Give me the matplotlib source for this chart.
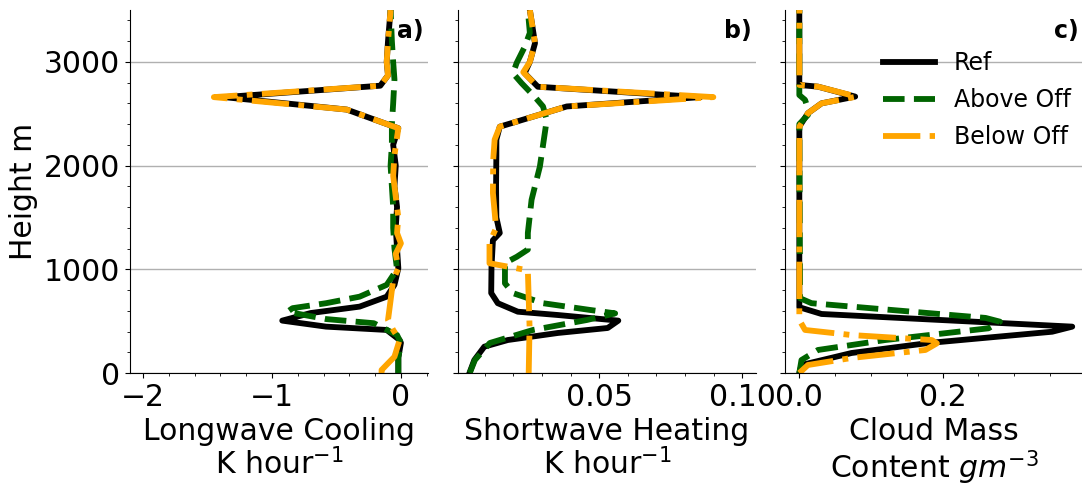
import matplotlib
matplotlib.use("Agg")
import matplotlib.pyplot as plt
from matplotlib.ticker import AutoMinorLocator

# ---------------- data ----------------
# Panel a: Longwave cooling (K/hour)
lw_ref_z = [0, 150, 290, 318, 415, 447, 505, 578, 640, 736, 850, 1010, 1200, 1400, 1600, 1800, 2000, 2200, 2360, 2540, 2660, 2770, 2870, 3000, 3200, 3500]
lw_ref_v = [-0.02, -0.02, 0.0, -0.01, -0.11, -0.58, -0.92, -0.70, -0.32, -0.11, -0.05, -0.02, -0.03, -0.04, -0.03, -0.05, -0.04, -0.06, -0.02, -0.42, -1.37, -0.16, -0.10, -0.11, -0.10, -0.08]
lw_abv_z = [0, 150, 290, 366, 480, 520, 590, 625, 673, 736, 850, 1000, 1200, 1400, 1600, 1800, 2000, 2200, 2400, 2600, 2830, 3000, 3200, 3500]
lw_abv_v = [-0.02, -0.02, 0.0, -0.03, -0.21, -0.58, -0.88, -0.84, -0.58, -0.32, -0.11, -0.03, -0.05, -0.06, -0.06, -0.07, -0.08, -0.07, -0.07, -0.06, -0.05, -0.06, -0.07, -0.08]
lw_blw_z = [0, 29, 157, 318, 415, 511, 700, 897, 1010, 1150, 1250, 1350, 1500, 1700, 1900, 2100, 2360, 2540, 2660, 2770, 2870, 3000, 3200, 3500]
lw_blw_v = [-0.15, -0.15, -0.05, -0.01, -0.06, -0.10, -0.08, -0.06, -0.02, -0.04, 0.0, -0.03, -0.02, -0.04, -0.06, -0.05, -0.02, -0.42, -1.45, -0.16, -0.10, -0.11, -0.10, -0.08]

# Panel b: Shortwave heating (K/hour)
sw_ref_z = [0, 125, 254, 318, 386, 434, 505, 559, 591, 673, 771, 1020, 1280, 1350, 1500, 1800, 2100, 2250, 2375, 2570, 2660, 2760, 2890, 3000, 3180, 3500]
sw_ref_v = [0.0047, 0.0064, 0.0099, 0.0181, 0.0356, 0.053, 0.0567, 0.0356, 0.0216, 0.0146, 0.0123, 0.0124, 0.0129, 0.0153, 0.0141, 0.0140, 0.0141, 0.0141, 0.0153, 0.0387, 0.0854, 0.0286, 0.024, 0.0258, 0.0276, 0.0258]
sw_abv_z = [0, 125, 289, 415, 511, 575, 608, 673, 770, 865, 1060, 1120, 1190, 1350, 1670, 1990, 2440, 2570, 2660, 2795, 2890, 2990, 3145, 3280, 3500]
sw_abv_v = [0.0048, 0.0066, 0.0118, 0.0269, 0.0457, 0.0556, 0.0468, 0.0304, 0.0199, 0.0171, 0.0171, 0.0212, 0.0251, 0.0251, 0.0264, 0.0293, 0.0317, 0.0304, 0.0276, 0.0229, 0.0199, 0.0212, 0.024, 0.0258, 0.0251]
sw_blw_z = [0, 447, 990, 1058, 1253, 1398, 1735, 2054, 2250, 2375, 2570, 2660, 2760, 2900, 3000, 3180, 3500]
sw_blw_v = [0.0254, 0.0257, 0.0251, 0.0117, 0.0117, 0.014, 0.0129, 0.013, 0.0135, 0.0153, 0.0387, 0.0899, 0.0286, 0.0235, 0.0258, 0.0276, 0.0258]

# Panel c: Cloud mass content (g/m3)
cm_ref_z = [0, 77, 193, 289, 398, 447, 569, 634, 2375, 2505, 2600, 2665, 2761, 2777, 3500]
cm_ref_v = [0.0, 0.003, 0.073, 0.18, 0.353, 0.381, 0.031, 0.0, 0.0, 0.012, 0.031, 0.078, 0.026, 0.0, 0.0]
cm_abv_z = [0, 125, 222, 318, 431, 495, 531, 673, 721, 2400, 2488, 2550, 2633, 2680, 3500]
cm_abv_v = [0.0, 0.003, 0.026, 0.12, 0.264, 0.28, 0.26, 0.017, 0.001, 0.0, 0.012, 0.012, 0.008, 0.0, 0.0]
cm_blw_z = [0, 77, 145, 222, 286, 318, 366, 415, 511, 2375, 2505, 2600, 2665, 2761, 2777, 3500]
cm_blw_v = [0.0, 0.012, 0.073, 0.176, 0.192, 0.185, 0.073, 0.008, 0.0, 0.0, 0.012, 0.031, 0.080, 0.026, 0.0, 0.0]

series_labels = ["Ref", "Above Off", "Below Off"]
panel_tags = ["a)", "b)", "c)"]
xlabels = ["Longwave Cooling\nK hour$^{-1}$", "Shortwave Heating\nK hour$^{-1}$", "Cloud Mass\nContent $gm^{-3}$"]

# ---------------- style ----------------
colors = ["black", "#006400", "#FFA500"]
styles = ["-", "--", "-."]
LW = 4.2
FS = 21.5

fig = plt.figure(figsize=(10.82, 4.86), dpi=100)
W, H = 1082, 486
bottom = (H - 373) / H
height = (373 - 10) / H
lefts = [130, 458, 785]
width = 298 / W
axes = []
for i, l in enumerate(lefts):
    ax = fig.add_axes([l / W, bottom, width, height], sharey=axes[0] if axes else None)
    axes.append(ax)

data = [
    [(lw_ref_v, lw_ref_z), (lw_abv_v, lw_abv_z), (lw_blw_v, lw_blw_z)],
    [(sw_ref_v, sw_ref_z), (sw_abv_v, sw_abv_z), (sw_blw_v, sw_blw_z)],
    [(cm_ref_v, cm_ref_z), (cm_abv_v, cm_abv_z), (cm_blw_v, cm_blw_z)],
]

xlims = [(-2.1, 0.21), (0.0007, 0.1048), (-0.02, 0.396)]
xmajor = [[-2, -1, 0], [0.05, 0.10], [0.0, 0.2]]
xmajor_lbl = [["\u22122", "\u22121", "0"], ["0.05", "0.10"], ["0.0", "0.2"]]
xminor_n = [5, 5, 4]

for i, ax in enumerate(axes):
    for (v, z), c, s, lab in zip(data[i], colors, styles, series_labels):
        ax.plot(v, z, color=c, ls=s, lw=LW, label=lab,
                solid_joinstyle="round", dash_joinstyle="round")
    ax.set_xlim(*xlims[i])
    ax.set_ylim(0, 3500)
    ax.set_xticks(xmajor[i])
    ax.set_xticklabels(xmajor_lbl[i])
    ax.xaxis.set_minor_locator(AutoMinorLocator(xminor_n[i]))
    ax.set_yticks([0, 1000, 2000, 3000])
    ax.yaxis.set_minor_locator(AutoMinorLocator(5))
    ax.yaxis.grid(True, which="major", color="#b0b0b0", lw=1)
    ax.set_axisbelow(True)
    ax.spines["top"].set_visible(False)
    ax.spines["right"].set_visible(False)
    ax.tick_params(axis="both", which="major", labelsize=FS)
    ax.set_xlabel(xlabels[i], fontsize=FS, linespacing=1.08)
    ax.text(0.985, 0.975, panel_tags[i], transform=ax.transAxes, ha="right", va="top",
            fontsize=17, fontweight="bold")
    if i > 0:
        plt.setp(ax.get_yticklabels(), visible=False)

axes[0].set_ylabel("Height m", fontsize=FS)

axes[2].legend(loc="upper right", bbox_to_anchor=(1.03, 0.945), frameon=False, fontsize=17,
               handlelength=2.2, labelspacing=0.55)

fig.savefig("out.png", dpi=100)
